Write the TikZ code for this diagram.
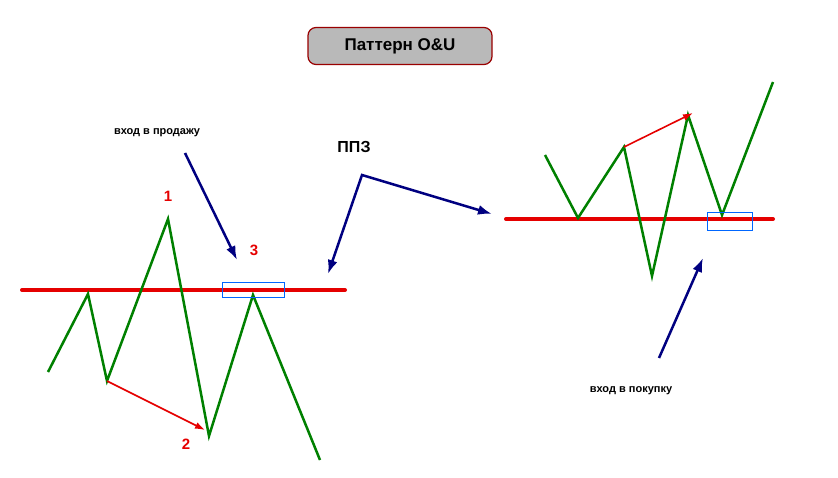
\documentclass[tikz,border=0pt]{standalone}
\usepackage{fontspec}
\setmainfont{Liberation Sans}
\usetikzlibrary{arrows.meta}
\begin{document}
\begin{tikzpicture}[
    x=1pt, y=-1pt,
    level/.style={draw=red!90!black,line width=4pt,line cap=round},
    price/.style={draw=green!50!black,line width=2.5pt,line join=miter},
    move/.style={draw=red!90!black,line width=1.6pt,-{Latex[length=10pt,width=7pt]}},
    entry/.style={draw=blue!50!black,line width=2.5pt,-{Latex[length=14pt,width=10pt]}},
    zone/.style={draw=blue!60!cyan,line width=1pt},
    count/.style={text=red!90!black,font=\bfseries\fontsize{15}{18}\selectfont},
    note/.style={font=\bfseries\fontsize{11}{13}\selectfont},
  ]
  \useasboundingbox (0,0) rectangle (838,478);
  % Title
  \node[draw=red!60!black,fill=gray!55,rounded corners=8pt,line width=1.2pt,
        minimum width=184pt,minimum height=37pt,font=\bfseries\fontsize{17}{20}\selectfont] (title) at (400,46) {Паттерн O\&U};

  % Left part
  \coordinate (lvlLs) at (22,290);
  \coordinate (lvlLe) at (345,290);
  \foreach \n/\x/\y in {a/48/372,b/88/294,c/107/381,d/168/219,e/209/436,f/253/295,g/320/460}
    \coordinate (l\n) at (\x,\y);
  \draw[level] (lvlLs) -- (lvlLe);
  \draw[price] (la) -- (lb) -- (lc) -- (ld) -- (le) -- (lf) -- (lg);
  \draw[move] (lc) -- (205,430);
  \node[count] (one) at (168,196) {1};
  \node[count] (two) at (186,444) {2};
  \node[count] (three) at (254,250) {3};
  \draw[zone] (222,283) rectangle (284,298);
  \node[note] (sell) at (157,133) {вход в продажу};
  \coordinate (sellTip) at (237,260);
  \draw[entry] (185,153) -- (sellTip);

  % PPZ
  \node[font=\bfseries\fontsize{16}{19}\selectfont] (ppz) at (354,147) {ППЗ};
  \coordinate (pk) at (362,175);
  \draw[entry,{Latex[length=14pt,width=10pt]}-{Latex[length=14pt,width=10pt]}] (328,274) -- (pk) -- (492,214);

  % Right part
  \coordinate (lvlRs) at (506,219);
  \coordinate (lvlRe) at (773,219);
  \foreach \n/\x/\y in {a/545/155,b/578/218,c/624/147,d/652/276,e/688/115,f/722/215,g/773/82}
    \coordinate (r\n) at (\x,\y);
  \draw[level] (lvlRs) -- (lvlRe);
  \draw[price] (ra) -- (rb) -- (rc) -- (rd) -- (re) -- (rf) -- (rg);
  \draw[move] (rc) -- (693,113);
  \draw[zone] (707,213) rectangle (752,231);
  \node[note] (buy) at (631,391) {вход в покупку};
  \draw[entry] (659,358) -- (703,258);
\end{tikzpicture}
\end{document}
